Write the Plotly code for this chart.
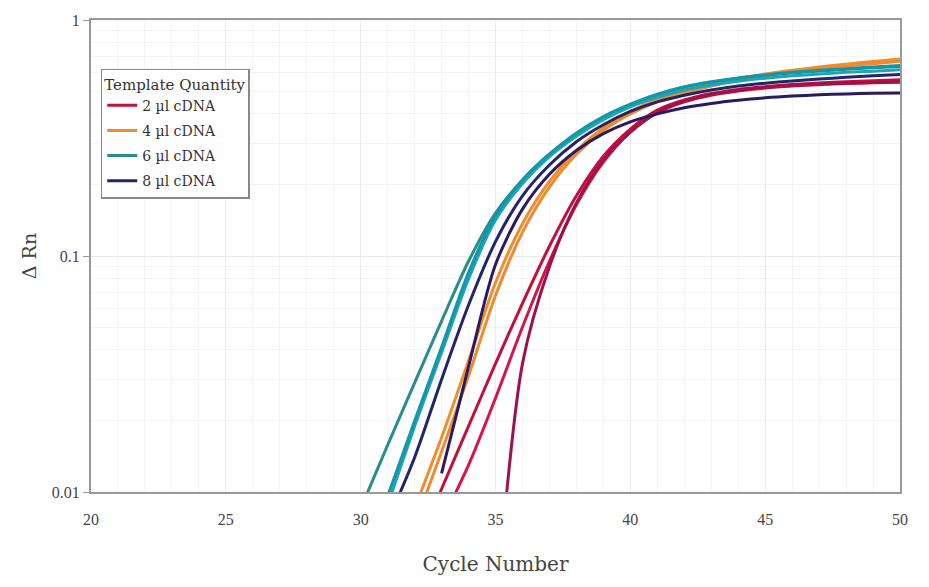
import plotly.graph_objects as go

cycles = list(range(30, 51))

teal_a = [0.0085, 0.0158, 0.029, 0.053, 0.095, 0.152, 0.21, 0.27, 0.325, 0.383, 0.432,
          0.48, 0.52, 0.545, 0.565, 0.582, 0.597, 0.608, 0.618, 0.627, 0.635]
teal_b = [0.0042, 0.0088, 0.019, 0.039, 0.08, 0.142, 0.203, 0.264, 0.322, 0.378, 0.428,
          0.47, 0.505, 0.53, 0.55, 0.567, 0.58, 0.59, 0.6, 0.607, 0.615]
teal_c = [0.0048, 0.0096, 0.02, 0.041, 0.085, 0.148, 0.21, 0.27, 0.332, 0.39, 0.44,
          0.485, 0.52, 0.547, 0.568, 0.585, 0.6, 0.612, 0.622, 0.632, 0.642]
navy_a = [None, 0.0075, 0.014, 0.03, 0.062, 0.115, 0.18, 0.243, 0.305, 0.36, 0.41,
          0.45, 0.48, 0.505, 0.525, 0.54, 0.552, 0.562, 0.572, 0.58, 0.588]
navy_b = [None, None, None, 0.012, 0.034, 0.092, 0.158, 0.222, 0.28, 0.33, 0.37,
          0.4, 0.425, 0.443, 0.457, 0.468, 0.476, 0.482, 0.486, 0.489, 0.491]
orange_a = [None, None, 0.0085, 0.017, 0.036, 0.077, 0.137, 0.207, 0.28, 0.35, 0.41,
            0.46, 0.5, 0.535, 0.565, 0.59, 0.612, 0.632, 0.65, 0.667, 0.683]
orange_b = [None, None, 0.0072, 0.0148, 0.031, 0.068, 0.126, 0.196, 0.27, 0.34, 0.4,
            0.45, 0.49, 0.525, 0.555, 0.58, 0.6, 0.62, 0.638, 0.653, 0.668]
red_a = [None, None, 0.0055, 0.0103, 0.019, 0.035, 0.063, 0.11, 0.18, 0.265, 0.345,
         0.415, 0.458, 0.488, 0.508, 0.522, 0.533, 0.541, 0.548, 0.553, 0.558]
red_b = [None, None, None, 0.0075, 0.013, 0.025, 0.05, 0.095, 0.165, 0.25, 0.335,
         0.405, 0.45, 0.48, 0.5, 0.515, 0.525, 0.532, 0.538, 0.542, 0.545]
red_c = [None, None, None, None, None, 0.003, 0.035, 0.09, 0.168, 0.255, 0.335,
         0.405, 0.452, 0.483, 0.503, 0.518, 0.528, 0.535, 0.54, 0.544, 0.548]

groups = [
    ("2 µl cDNA", [red_a, red_b, red_c], ["#c0103c", "#d4144a", "#a0104a"]),
    ("4 µl cDNA", [orange_a, orange_b], ["#f28c28", "#ee8a30"]),
    ("8 µl cDNA", [navy_a, navy_b], ["#24246a", "#2a1a60"]),
    ("6 µl cDNA", [teal_a, teal_b, teal_c], ["#2a8c8c", "#1aa6b6", "#1596a8"]),
]
legend_rank = {"2 µl cDNA": 1, "4 µl cDNA": 2, "6 µl cDNA": 3, "8 µl cDNA": 4}

fig = go.Figure()
for name, series, colors in groups:
    for i, (s, c) in enumerate(zip(series, colors)):
        fig.add_trace(go.Scatter(
            x=cycles, y=s, mode="lines", name=name, legendgroup=name,
            showlegend=(i == 0), legendrank=legend_rank[name],
            line=dict(color=c, width=3, shape="spline", smoothing=0.8),
            connectgaps=False,
        ))

font_family = "Liberation Serif, DejaVu Serif, serif"
wide_family = "DejaVu Serif, Liberation Serif, serif"

fig.update_layout(
    width=929, height=587,
    margin=dict(l=91, r=29, t=18, b=95),
    paper_bgcolor="white", plot_bgcolor="white",
    font=dict(family=font_family, color="#444", size=16),
    legend=dict(
        title=dict(text="Template Quantity", font=dict(size=15, color="#333", family=wide_family)),
        x=0.012, y=0.897, xanchor="left", yanchor="top",
        bgcolor="white", bordercolor="#888", borderwidth=1.5,
        font=dict(size=14, color="#333", family=wide_family), itemwidth=30,
        tracegroupgap=4,
    ),
    xaxis=dict(
        range=[20, 50], tickvals=[20, 25, 30, 35, 40, 45, 50],
        showline=True, linecolor="#999", linewidth=2, mirror=True,
        showgrid=True, gridcolor="#ececec", gridwidth=1,
        minor=dict(dtick=1, showgrid=True, gridcolor="#f4f4f4"),
        ticks="", ticklabelstandoff=12,
        title=dict(text="Cycle Number", font=dict(size=20, color="#444", family=wide_family), standoff=30),
        zeroline=False,
    ),
    yaxis=dict(
        type="log", range=[-2, 0], tickvals=[0.01, 0.1, 1], ticktext=["0.01", "0.1", "1"],
        showline=True, linecolor="#999", linewidth=2, mirror=True,
        showgrid=True, gridcolor="#e8e8e8",
        minor=dict(showgrid=True, gridcolor="#f4f4f4", tickvals=[0.02, 0.03, 0.04, 0.05, 0.06, 0.07, 0.08, 0.09, 0.2, 0.3, 0.4, 0.5, 0.6, 0.7, 0.8, 0.9]),
        ticks="outside", ticklen=6, tickcolor="#999",
        title=dict(text="Δ Rn", font=dict(size=19, color="#444", family=wide_family), standoff=10),
        zeroline=False,
    ),
)

fig.write_html("out.html")
